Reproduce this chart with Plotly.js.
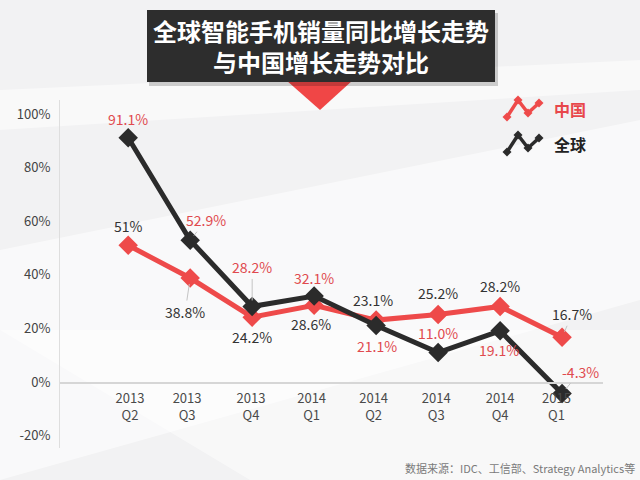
<!DOCTYPE html>
<html>
<head>
<meta charset="utf-8">
<script src="https://cdn.plot.ly/plotly-3.0.1.min.js"></script>
<style>
  html, body { margin: 0; padding: 0; background: #f2f2f3; }
  #chart { width: 640px; height: 480px; }
</style>
</head>
<body>
<div id="chart"></div>
<script>
// quarters and growth rates (%)
var quarters = ['2013<br>Q2', '2013<br>Q3', '2013<br>Q4', '2014<br>Q1', '2014<br>Q2', '2014<br>Q3', '2014<br>Q4', '2015<br>Q1'];
var china = [51, 38.8, 24.2, 28.6, 23.1, 25.2, 28.2, 16.7];
var world = [91.1, 52.9, 28.2, 32.1, 21.1, 11.0, 19.1, -4.3];
var chinaText = ['51%', '38.8%', '24.2%', '28.6%', '23.1%', '25.2%', '28.2%', '16.7%'];
var worldText = ['91.1%', '52.9%', '28.2%', '32.1%', '21.1%', '11.0%', '19.1%', '-4.3%'];
var yTicks = [-20, 0, 20, 40, 60, 80, 100];
var yTickText = ['-20%', '0%', '20%', '40%', '60%', '80%', '100%'];

// tick label positions (the original labels sit slightly off the points)
var tickPos = [0.03, 0.95, 1.98, 2.96, 3.96, 4.97, 6.0, 6.91];

var RED = '#ee4a4a';
var DARK = '#2b2b2b';
var FONT = '"Noto Sans CJK SC", "Noto Sans", sans-serif';

// plot area in pixels
var L = 60, R = 603, T = 100, B = 448;
var yMin = -24.6, yMax = 105.2;
function px(x) { return (x - L) / (R - L); }
function py(y) { return (B - y) / (B - T); }

var xs = quarters.map(function(q, i) { return i; });

var traces = [
  {
    x: xs, y: china, name: '中国', type: 'scatter', mode: 'lines+markers',
    line: { color: RED, width: 5 },
    marker: { symbol: 'diamond', size: 15, color: RED },
    hoverinfo: 'skip'
  },
  {
    x: xs, y: world, name: '全球', type: 'scatter', mode: 'lines+markers',
    line: { color: DARK, width: 5 },
    marker: { symbol: 'diamond', size: 15, color: DARK },
    hoverinfo: 'skip'
  }
];

// label offsets in pixels [dx, dy, leader]
var chinaOff = [[0, -19, 0], [-5, 34, 1], [0, 20, 0], [-3, 19, 0], [-3, -20, 0], [0, -21, 0], [0, -20, 0], [10, -23, 1]];
var worldOff = [[0, -19, 0], [16, -20, 1], [0, -39, 1], [0, -18, 0], [1, 21, 0], [0, -20, 0], [-1, 19, 0], [18, -22, 1]];

var annotations = [];
function addLabels(vals, texts, offs, color) {
  vals.forEach(function(v, i) {
    annotations.push({
      x: i, y: v, xref: 'x', yref: 'y', text: texts[i],
      showarrow: true, ax: offs[i][0], ay: offs[i][1],
      arrowhead: 0, arrowwidth: 1, standoff: 6,
      arrowcolor: offs[i][2] ? '#c4c4c4' : 'rgba(0,0,0,0)',
      font: { family: FONT, size: 14, color: color }
    });
  });
}
addLabels(world, worldText, worldOff, '#e04a4e');
addLabels(china, chinaText, chinaOff, '#333333');

function note(x, y, text, size, color, xanchor) {
  annotations.push({
    xref: 'paper', yref: 'paper', x: px(x), y: py(y),
    xanchor: xanchor || 'center', yanchor: 'middle', showarrow: false,
    text: text, font: { family: FONT, size: size, color: color }
  });
}
// title
note(321, 46, '<b>全球智能手机销量同比增长走势<br>与中国增长走势对比</b>', 24, '#ffffff');
// legend texts
note(552, 109, '<b>中国</b>', 16, '#e8474b', 'left');
note(552, 144, '<b>全球</b>', 16, '#222222', 'left');
// source
note(637, 468, '数据来源：IDC、工信部、Strategy Analytics等', 11, '#7a7a7a', 'right');

function poly(pts) {
  return pts.map(function(p, i) { return (i ? 'L' : 'M') + px(p[0]) + ',' + py(p[1]); }).join(' ') + ' Z';
}
function zig(y0, color) {
  var pts = [[507, y0 + 15], [518, y0 - 2], [528, y0 + 11], [539, y0 + 1]];
  var out = [{
    type: 'path', xref: 'paper', yref: 'paper',
    path: pts.map(function(p, i) { return (i ? 'L' : 'M') + px(p[0]) + ',' + py(p[1]); }).join(' '),
    line: { color: color, width: 3.5 }
  }];
  pts.forEach(function(p) {
    out.push({
      type: 'path', xref: 'paper', yref: 'paper',
      path: poly([[p[0], p[1] - 4.5], [p[0] + 4.5, p[1]], [p[0], p[1] + 4.5], [p[0] - 4.5, p[1]]]),
      fillcolor: color, line: { width: 0 }
    });
  });
  return out;
}

var shapes = [
  // soft background bands
  { type: 'path', xref: 'paper', yref: 'paper', layer: 'below', path: poly([[0, 250], [640, 120], [640, 300], [0, 480]]), fillcolor: 'rgba(255,255,255,0.55)', line: { width: 0 } },
  { type: 'path', xref: 'paper', yref: 'paper', layer: 'below', path: poly([[0, 330], [640, 330], [640, 480], [250, 480]]), fillcolor: 'rgba(255,255,255,0.45)', line: { width: 0 } },
  { type: 'path', xref: 'paper', yref: 'paper', layer: 'below', path: poly([[0, 90], [640, 60], [640, 90], [0, 130]]), fillcolor: 'rgba(255,255,255,0.5)', line: { width: 0 } },
  // red pointer
  { type: 'path', xref: 'paper', yref: 'paper', path: poly([[286, 80], [353, 80], [320, 110]]), fillcolor: '#f04646', line: { width: 0 } },
  // title box shadow + box
  { type: 'rect', xref: 'paper', yref: 'paper', x0: px(149), x1: px(498), y0: py(13), y1: py(86), fillcolor: 'rgba(0,0,0,0.18)', line: { width: 0 } },
  { type: 'rect', xref: 'paper', yref: 'paper', x0: px(147), x1: px(495), y0: py(10), y1: py(82), fillcolor: '#2d2d2d', line: { width: 0 } }
].concat(zig(102, RED), zig(137, DARK));

var layout = {
  width: 640, height: 480,
  margin: { l: L, r: 640 - R, t: T, b: 480 - B, pad: 0 },
  paper_bgcolor: '#f2f2f3',
  plot_bgcolor: 'rgba(0,0,0,0)',
  showlegend: false,
  font: { family: FONT, color: '#444' },
  xaxis: {
    range: [-1.10, 7.66],
    tickmode: 'array', tickvals: tickPos, ticktext: quarters,
    tickfont: { family: FONT, size: 13, color: '#4a4a4a' },
    showgrid: false, zeroline: false,
    showline: true, linecolor: '#d6d6d6', linewidth: 1.5,
    ticks: '', ticklabelstandoff: 4,
    anchor: 'free', position: (0 - yMin) / (yMax - yMin),
    fixedrange: true
  },
  yaxis: {
    range: [yMin, yMax],
    tickmode: 'array', tickvals: yTicks, ticktext: yTickText,
    tickfont: { family: FONT, size: 13, color: '#444' },
    showgrid: false, zeroline: false,
    showline: true, linecolor: '#dedede', linewidth: 1,
    ticks: '', ticklabelstandoff: 6,
    fixedrange: true
  },
  shapes: shapes,
  annotations: annotations
};

Plotly.newPlot('chart', traces, layout, { displayModeBar: false, staticPlot: true });
</script>
</body>
</html>
